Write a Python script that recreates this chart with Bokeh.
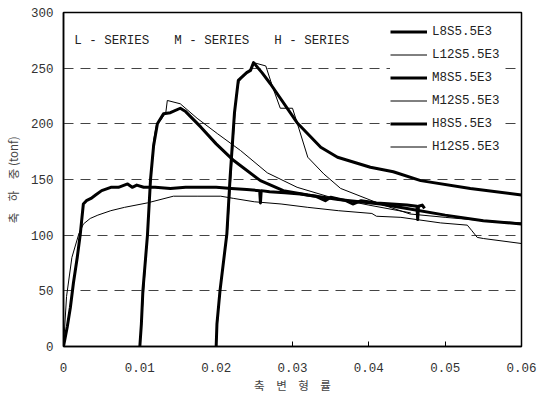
from bokeh.plotting import figure
from bokeh.models import Legend, LegendItem, Label, FixedTicker, ColumnDataSource
from bokeh.embed import file_html
from bokeh.resources import INLINE

# ---- data (strain, load in tonf) ----
L8_x = [0, 0.0005, 0.0009, 0.0013, 0.0018, 0.0022, 0.0026, 0.003, 0.0036, 0.0042, 0.005, 0.0062,
        0.0072, 0.0084, 0.009, 0.0096, 0.0105, 0.012, 0.014, 0.016, 0.018, 0.02, 0.022, 0.024,
        0.0257, 0.0258, 0.0259, 0.027, 0.029, 0.031, 0.033, 0.0343, 0.035, 0.037, 0.0379, 0.039,
        0.041, 0.043, 0.045, 0.0463, 0.0464, 0.0465, 0.047, 0.0473]
L8_y = [0, 18, 35, 57, 80, 101, 128, 131, 133, 136, 140, 143,
        143, 146, 143, 145, 143, 143, 142, 143, 143, 143, 142, 141,
        140, 129, 140, 139, 138, 137, 135, 131, 134, 131, 128, 131,
        129, 128, 127, 126, 114, 126, 127, 124]

L12_x = [0, 0.0004, 0.0011, 0.002, 0.0026, 0.0035, 0.0045, 0.0062, 0.008, 0.011, 0.0144, 0.0175,
         0.0206, 0.0223, 0.025, 0.0285, 0.032, 0.036, 0.0404, 0.041, 0.0442, 0.0494, 0.0529,
         0.0535, 0.0542, 0.055, 0.06]
L12_y = [0, 45, 80, 101, 110, 115, 118, 122, 125, 129, 135, 135,
         135, 133, 130, 128, 125, 122, 119.5, 117, 116, 111, 109,
         104, 98, 97, 92.5]

M8_x = [0.01, 0.0102, 0.0104, 0.0107, 0.011, 0.0114, 0.0118, 0.0123, 0.0131, 0.014, 0.0153, 0.016,
        0.018, 0.02, 0.0223, 0.0258, 0.0288, 0.032, 0.036, 0.0415, 0.045, 0.05, 0.055, 0.06]
M8_y = [0, 20, 50, 75, 100, 150, 180, 200, 209, 210, 214, 211,
        197, 182, 167, 149, 140, 136, 132, 128, 124, 118, 113, 110]

M12_x = [0.01, 0.0103, 0.0106, 0.011, 0.0114, 0.0118, 0.0122, 0.0127, 0.0134, 0.0136, 0.0153,
         0.0175, 0.0202, 0.0232, 0.0267, 0.0306, 0.035, 0.04, 0.0455]
M12_y = [0, 30, 60, 100, 150, 185, 200, 203, 210, 221, 218,
         205, 191, 176, 156, 143, 134, 127, 120]

H8_x = [0.02, 0.0201, 0.0205, 0.0214, 0.0218, 0.0224, 0.0229, 0.024, 0.0245, 0.0249, 0.026, 0.0271,
        0.0306, 0.0337, 0.0359, 0.0402, 0.0432, 0.0468, 0.0533, 0.06]
H8_y = [0, 20, 50, 101, 149, 210, 239, 246, 248, 255, 246, 236,
        201, 179, 170, 161, 157, 149, 142, 136]

H12_x = [0.02, 0.0202, 0.0206, 0.0215, 0.022, 0.0226, 0.023, 0.0238, 0.0246, 0.0249, 0.0265,
         0.0274, 0.0284, 0.03, 0.0306, 0.032, 0.0341, 0.0363, 0.0415, 0.0454, 0.05, 0.055, 0.06]
H12_y = [0, 25, 55, 105, 160, 225, 238, 245, 250, 255, 252,
         233, 214, 214, 201, 170, 155, 142, 128, 119, 116, 113, 111]

series_names = ["L8S5.5E3", "L12S5.5E3", "M8S5.5E3", "M12S5.5E3", "H8S5.5E3", "H12S5.5E3"]
series_x = [L8_x, L12_x, M8_x, M12_x, H8_x, H12_x]
series_y = [L8_y, L12_y, M8_y, M12_y, H8_y, H12_y]
series_width = [3, 1, 3, 1, 3, 1]

x_ticks = [0, 0.01, 0.02, 0.03, 0.04, 0.05, 0.06]
x_tick_labels = ["0", "0.01", "0.02", "0.03", "0.04", "0.05", "0.06"]
y_ticks = [0, 50, 100, 150, 200, 250, 300]

group_labels = ["L - SERIES", "M - SERIES", "H - SERIES"]
group_label_x = [0.0014, 0.0145, 0.0276]

MONO = "Liberation Mono"
KR = "Noto Sans CJK KR"
SP = "\u3000"

p = figure(width=543, height=395, x_range=(0, 0.06), y_range=(0, 300),
           output_backend="svg", toolbar_location=None,
           min_border_left=63, min_border_right=22, min_border_top=12, min_border_bottom=49)
p.background_fill_color = "white"
p.border_fill_color = "white"
p.outline_line_color = "black"
p.outline_line_width = 1.5

p.xgrid.visible = False
p.ygrid.ticker = FixedTicker(ticks=y_ticks)
p.ygrid.grid_line_color = "#444444"
p.ygrid.grid_line_dash = "10 7"
p.ygrid.grid_line_width = 1

p.xaxis.ticker = FixedTicker(ticks=x_ticks)
p.xaxis.major_label_overrides = {t: s for t, s in zip(x_ticks, x_tick_labels)}
p.yaxis.ticker = FixedTicker(ticks=y_ticks)
for ax in (p.xaxis, p.yaxis):
    ax.axis_line_color = "black"
    ax.axis_line_width = 1.5
    ax.minor_tick_line_color = None
    ax.major_label_text_font = MONO
    ax.major_label_text_font_size = "12.5px"
    ax.major_label_text_color = "#333333"
    ax.axis_label_text_font = KR
    ax.axis_label_text_font_size = "11.5px"
    ax.axis_label_text_font_style = "normal"
    ax.axis_label_text_color = "#444444"
p.xaxis.major_tick_in = 5
p.xaxis.major_tick_out = 0
p.xaxis.major_tick_line_color = "black"
p.yaxis.major_tick_in = 0
p.yaxis.major_tick_out = 0
p.xaxis.major_label_standoff = 16
p.xaxis.axis_label_standoff = 2
p.yaxis.major_label_standoff = 10
p.yaxis.axis_label_standoff = 7
p.xaxis.axis_label = SP.join(["축", "변", "형", "률"])
p.yaxis.axis_label = SP.join(["축", "하", "중"]) + " (tonf)"

items = []
for name, xs, ys, w in zip(series_names, series_x, series_y, series_width):
    src = ColumnDataSource(dict(x=xs, y=ys))
    r = p.line("x", "y", source=src, line_color="black", line_width=w, line_join="round")
    items.append(LegendItem(label=name, renderers=[r]))

legend = Legend(items=items, location=(327, 192))
legend.background_fill_color = "white"
legend.background_fill_alpha = 1.0
legend.border_line_color = None
legend.label_text_font = MONO
legend.label_text_font_size = "12.5px"
legend.label_text_color = "#222222"
legend.glyph_width = 37
legend.glyph_height = 15
legend.label_height = 15
legend.spacing = 8
legend.padding = 10
legend.label_standoff = 5
p.add_layout(legend)

for txt, gx in zip(group_labels, group_label_x):
    p.add_layout(Label(x=gx, y=274, text=txt, text_font=MONO, text_font_size="12.5px",
                       text_color="#222222", text_baseline="middle", text_align="left"))

open("out.html", "w").write(file_html(p, INLINE))
